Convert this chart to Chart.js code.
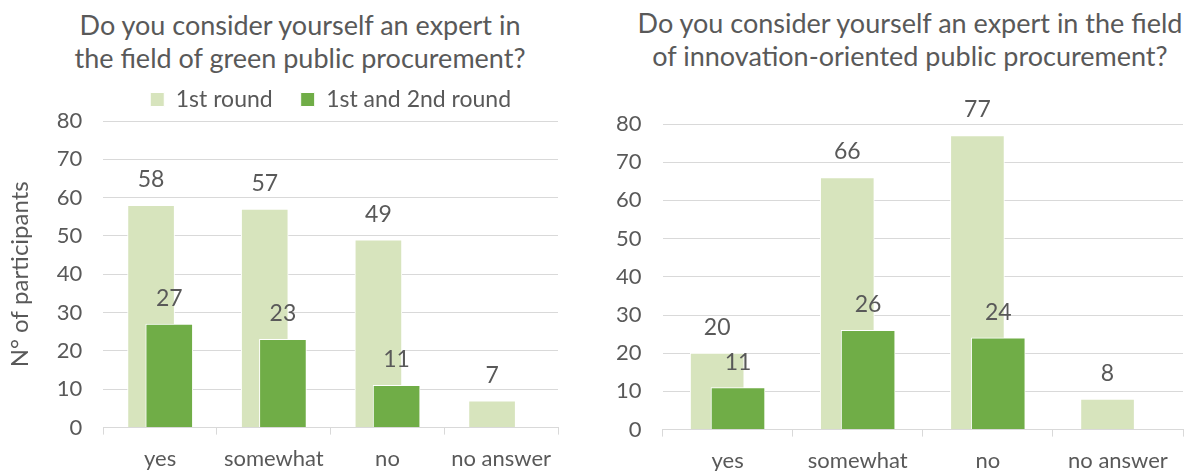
<!DOCTYPE html>
<html>
<head>
<meta charset="utf-8">
<script src="https://cdn.jsdelivr.net/npm/chart.js@4.4.0/dist/chart.umd.min.js"></script>
<style>
  body { margin: 0; background: #fff; }
  #wrap { position: relative; width: 1196px; height: 471px; overflow: hidden; font-family: Lato, sans-serif; color: #595959; }
  .title { position: absolute; width: 600px; text-align: center; font-size: 27px; line-height: 33px; white-space: nowrap; }
  .box { position: absolute; top: 0; }
</style>
</head>
<body>
<div id="wrap">
  <div class="title" style="left:0; top:8px;">Do you consider yourself an expert in<br>the field of green public procurement?</div>
  <div class="title" style="left:610px; top:6px;">Do you consider yourself an expert in the field<br>of innovation-oriented public procurement?</div>
  <div class="box" style="left:0; width:574px; height:483px;"><canvas id="greenChart"></canvas></div>
  <div class="box" style="left:590px; width:606px; height:485px;"><canvas id="innoChart"></canvas></div>
</div>
<script>
const categories = ['yes', 'somewhat', 'no', 'no answer'];
const seriesNames = ['1st round', '1st and 2nd round'];

// green public procurement
const greenRound1 = [58, 57, 49, 7];
const greenRound12 = [27, 23, 11, null];

// innovation-oriented public procurement
const innoRound1 = [20, 66, 77, 8];
const innoRound12 = [11, 26, 24, null];

const yTicks = { min: 0, max: 80, step: 10 };

const lightGreen = '#D7E4BD';
const darkGreen = '#70AD47';
const textGray = '#595959';
const gridGray = '#D9D9D9';
const shift = 0.08; // how far each bar sits off the category centre

Chart.defaults.font.family = 'Lato, sans-serif';
Chart.defaults.color = textGray;

// value above every bar
const valueLabels = {
    id: 'valueLabels',
    afterDatasetsDraw(chart) {
        const ctx = chart.ctx;
        ctx.save();
        ctx.font = '23px Lato, sans-serif';
        ctx.fillStyle = textGray;
        ctx.textAlign = 'center';
        ctx.textBaseline = 'alphabetic';
        chart.data.datasets.forEach((ds, i) => {
            const meta = chart.getDatasetMeta(i);
            meta.data.forEach((bar, j) => {
                const v = ds.data[j].y;
                if (v === null) return;
                ctx.fillText(String(v), bar.x, bar.y - 18);
            });
        });
        ctx.restore();
    }
};

function toPoints(values) {
    return values.map((v, i) => ({ x: i, y: v }));
}

function makeChart(id, round1, round12, opts) {
    const ctx = document.getElementById(id).getContext('2d');
    return new Chart(ctx, {
        type: 'bar',
        data: {
            labels: categories,
            datasets: [{
                label: seriesNames[0],
                data: toPoints(round1),
                xAxisID: 'xa',
                backgroundColor: lightGreen,
                borderColor: '#fff',
                borderWidth: 1,
                barThickness: opts.barWidth,
                grouped: false,
                order: 1
            }, {
                label: seriesNames[1],
                data: toPoints(round12),
                xAxisID: 'xb',
                backgroundColor: darkGreen,
                borderColor: '#fff',
                borderWidth: 1,
                barThickness: opts.barWidth,
                grouped: false,
                order: 0
            }]
        },
        options: {
            responsive: true,
            maintainAspectRatio: false,
            animation: false,
            layout: { padding: opts.padding },
            plugins: {
                legend: {
                    display: opts.legend,
                    position: 'top',
                    fullSize: false,
                    labels: {
                        boxWidth: 14,
                        boxHeight: 14,
                        padding: 28,
                        color: textGray,
                        font: { size: 23 },
                        sort: (a, b) => a.datasetIndex - b.datasetIndex
                    }
                },
                tooltip: { enabled: false }
            },
            scales: {
                x: {
                    type: 'category',
                    offset: true,
                    grid: { offset: true, drawOnChartArea: false, color: gridGray, tickLength: 7 },
                    border: { color: gridGray },
                    ticks: { font: { size: 22 }, color: textGray, padding: 11, maxRotation: 0 }
                },
                xa: {
                    type: 'linear', display: false, offset: false,
                    min: -0.5 + shift, max: categories.length - 0.5 + shift
                },
                xb: {
                    type: 'linear', display: false, offset: false,
                    min: -0.5 - shift, max: categories.length - 0.5 - shift
                },
                y: {
                    min: yTicks.min,
                    max: yTicks.max,
                    ticks: { stepSize: yTicks.step, font: { size: 22 }, color: textGray, padding: 21 },
                    grid: { color: gridGray, drawTicks: false },
                    border: { display: false },
                    title: {
                        display: opts.yTitle,
                        text: 'N° of participants',
                        font: { size: 24 },
                        color: textGray,
                        padding: { top: 6, bottom: 1 }
                    }
                }
            }
        },
        plugins: [valueLabels]
    });
}

makeChart('greenChart', greenRound1, greenRound12, {
    barWidth: 47,
    legend: true,
    yTitle: true,
    padding: { top: 60, right: 16, bottom: 0, left: 0 }
});

makeChart('innoChart', innoRound1, innoRound12, {
    barWidth: 54,
    legend: false,
    yTitle: false,
    padding: { top: 124, right: 13, bottom: 0, left: 5 }
});
</script>
</body>
</html>
